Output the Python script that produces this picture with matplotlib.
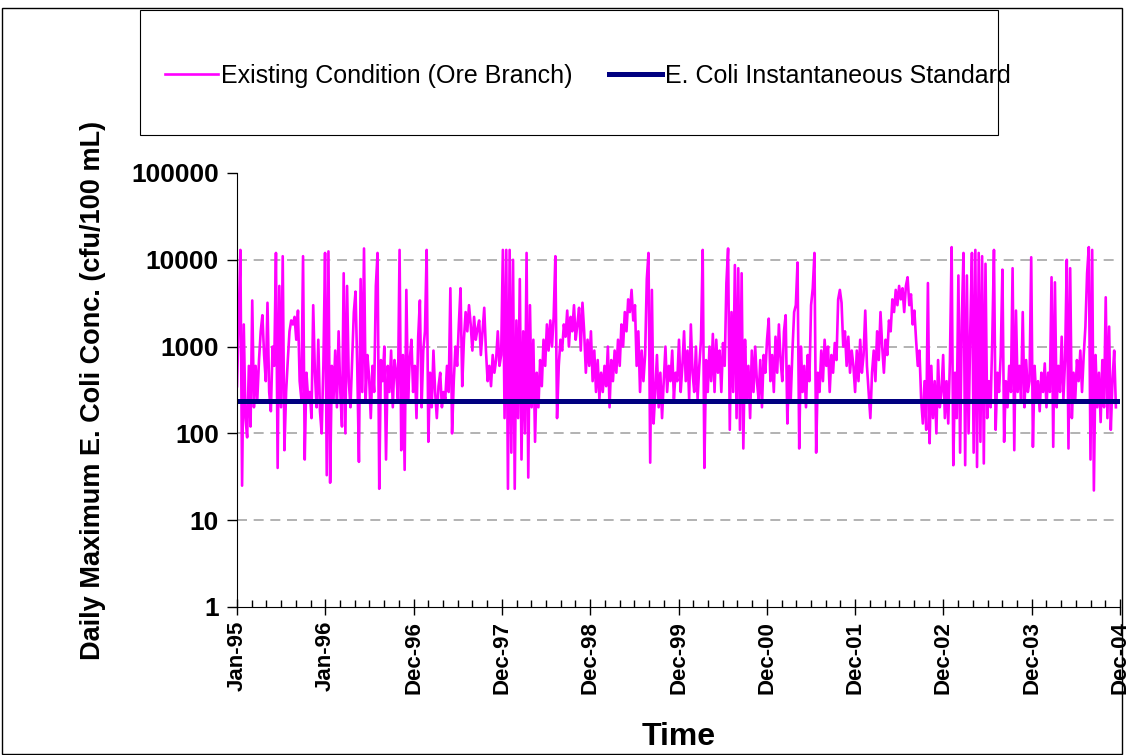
import matplotlib
matplotlib.use("Agg")
import matplotlib.pyplot as plt
import numpy as np
import pandas as pd
from matplotlib.ticker import MultipleLocator, FixedLocator, FixedFormatter
from matplotlib.patches import Rectangle

plt.rcParams['font.family'] = ['Liberation Sans', 'DejaVu Sans']

# weekly samples of the daily max E. coli series (cfu/100 mL)
y1995 = [350, 2000, 13000, 25, 1800, 150, 90, 600, 120, 3400, 200, 600, 250, 700, 1500, 2300,
         800, 400, 3200, 300, 180, 1000, 600, 12000, 40, 5000, 200, 11000, 64, 300, 700, 1500,
         2000, 1800, 2200, 1200, 2600, 400, 250, 11000, 50, 500, 250, 300, 150, 3000, 500, 200,
         1200, 180, 100, 600]
y1996 = [12000, 33, 12500, 27, 600, 250, 900, 200, 1500, 300, 120, 7000, 100, 5000, 400, 200,
         700, 2500, 4300, 600, 47, 6000, 300, 13500, 250, 800, 450, 150, 600, 300, 5000, 12000,
         23, 700, 400, 1000, 50, 600, 300, 900, 200, 700, 500, 250, 13000, 64, 800, 38,
         4500, 250, 700, 1200]
y1997 = [300, 600, 150, 1300, 3400, 200, 900, 1500, 13000, 80, 500, 200, 900, 300, 150, 350,
         500, 200, 300, 250, 600, 300, 4700, 100, 400, 1000, 600, 1800, 4700, 350, 1200, 2500,
         1500, 3000, 1800, 900, 2200, 1200, 1600, 2000, 800, 1500, 2800, 900, 400, 600, 350, 800,
         500, 700, 1500, 600]
y1998 = [800, 13000, 150, 13000, 23, 13000, 60, 10000, 23, 2000, 150, 6000, 50, 1500, 100, 12000,
         31, 3000, 200, 1200, 80, 500, 200, 700, 350, 1200, 600, 1800, 900, 2000, 1000, 2200,
         11000, 150, 600, 1200, 900, 1800, 1300, 2600, 1000, 2200, 1500, 3000, 1200, 1800, 2800, 900,
         3200, 1500, 500, 1200]
y1999 = [600, 1500, 400, 900, 300, 700, 250, 500, 300, 600, 350, 1000, 200, 700, 400, 900,
         500, 1200, 600, 1800, 1000, 2500, 1500, 3500, 2500, 4500, 2000, 3000, 600, 1500, 300, 900,
         400, 800, 6000, 12000, 46, 4500, 130, 300, 800, 200, 500, 150, 400, 1000, 300, 600,
         400, 900, 250, 500]
y2000 = [400, 1200, 300, 600, 1500, 400, 900, 250, 1800, 500, 300, 1000, 250, 600, 1200, 13000,
         40, 700, 300, 1000, 400, 1400, 300, 1200, 500, 900, 300, 1100, 600, 5400, 13500, 110,
         2500, 300, 8700, 150, 8000, 110, 7000, 67, 1200, 250, 600, 150, 900, 300, 1000, 400,
         250, 700, 200, 800]
y2001 = [500, 1200, 2100, 400, 800, 300, 1300, 500, 1800, 700, 400, 1500, 2300, 130, 600, 250,
         900, 2500, 3000, 9300, 67, 1000, 300, 600, 200, 800, 400, 3000, 4700, 12000, 60, 500,
         300, 900, 400, 1200, 600, 1000, 300, 800, 500, 1100, 700, 3500, 4500, 3200, 1000, 1500,
         600, 1300, 500, 900]
y2002 = [600, 300, 900, 400, 1200, 500, 800, 2600, 600, 300, 150, 500, 900, 400, 1500, 700,
         2500, 1000, 500, 1200, 800, 2000, 1500, 3500, 2500, 4500, 3000, 5000, 3500, 4700, 2500, 5000,
         6300, 3000, 4000, 1800, 2600, 1200, 600, 900, 250, 130, 400, 110, 5400, 77, 600, 150,
         400, 100, 700, 200]
y2003 = [300, 800, 150, 400, 130, 700, 14000, 43, 500, 150, 6600, 60, 2000, 12000, 43, 6600,
         100, 1500, 12000, 60, 13000, 41, 12000, 80, 11000, 45, 9000, 150, 400, 200, 1200, 13000,
         110, 500, 300, 800, 7700, 80, 400, 200, 600, 300, 8000, 64, 2600, 300, 600, 250,
         2500, 200, 700, 300]
y2004 = [400, 10700, 70, 600, 250, 400, 180, 500, 300, 640, 200, 500, 300, 6300, 70, 5500,
         200, 600, 300, 1300, 250, 700, 10000, 67, 8000, 150, 500, 250, 700, 400, 900, 300,
         800, 1700, 7000, 14000, 50, 13000, 22, 800, 200, 500, 135, 700, 200, 3700, 150, 1700,
         110, 400, 900, 200]

standard = 235
tick_labels = ['Jan-95', 'Jan-96', 'Dec-96', 'Dec-97', 'Dec-98', 'Dec-99',
               'Dec-00', 'Dec-01', 'Dec-02', 'Dec-03', 'Dec-04']

conc = np.array(y1995 + y1996 + y1997 + y1998 + y1999 + y2000 + y2001 + y2002 + y2003 + y2004)
dates = pd.date_range('1995-01-01', periods=len(conc), freq='7D')
days = (dates - pd.Timestamp('1995-01-01')).days.values
span = len(tick_labels) - 1

fig = plt.figure(figsize=(11.33, 7.55), dpi=100)
ax = fig.add_axes([237 / 1133, 1 - 607 / 755, 883 / 1133, 434 / 755])

line1, = ax.plot(days, conc, color='#FF00FF', lw=1.9, label='Existing Condition (Ore Branch)')
line2, = ax.plot([0, 365 * span], [standard, standard], color='#000080', lw=3.6,
                 label='E. Coli Instantaneous Standard')

ax.set_yscale('log')
ax.set_ylim(1, 100000)
ax.set_xlim(0, 365 * span)
ax.yaxis.set_major_locator(FixedLocator([1, 10, 100, 1000, 10000, 100000]))
ax.yaxis.set_major_formatter(FixedFormatter(['1', '10', '100', '1000', '10000', '100000']))
ax.yaxis.set_minor_locator(FixedLocator([]))
ax.xaxis.set_minor_locator(MultipleLocator(365 / 6))
ax.set_xticks(np.arange(len(tick_labels)) * 365)
ax.set_xticklabels(tick_labels, rotation=90, fontweight='bold', fontsize=16)
for lab in ax.get_yticklabels():
    lab.set_fontweight('bold')
    lab.set_fontsize(19)

for v in [10, 100, 1000, 10000]:
    ax.axhline(v, color='#a6a6a6', lw=1.2, ls=(0, (6, 4)), zorder=0)

ax.tick_params(axis='y', which='major', direction='out', length=7, width=1, pad=6)
ax.tick_params(axis='x', which='major', direction='inout', length=12, width=1, pad=4)
ax.tick_params(axis='x', which='minor', direction='in', length=5, width=1)
ax.spines['top'].set_visible(False)
ax.spines['right'].set_visible(False)

ax.set_ylabel('Daily Maximum E. Coli Conc. (cfu/100 mL)', fontsize=19.5, fontweight='bold', labelpad=18)
ax.set_xlabel('Time', fontsize=23, fontweight='bold', labelpad=20)

# legend box
fig.patches.append(Rectangle((140 / 1133, 1 - 135 / 755), 858 / 1133, 125 / 755,
                             transform=fig.transFigure, fill=False, edgecolor='black', lw=0.8))
fig.legend(handles=[line1, line2], loc='center', bbox_to_anchor=(588 / 1133, 1 - 76 / 755),
           ncol=2, frameon=False, fontsize=18, handlelength=2.1, handletextpad=0.15,
           columnspacing=1.45)

# outer chart border
fig.patches.append(Rectangle((2 / 1133, 1 - 754 / 755), 1120 / 1133, 746 / 755,
                             transform=fig.transFigure, fill=False, edgecolor='black', lw=1.0))

fig.savefig('out.png', dpi=100)
